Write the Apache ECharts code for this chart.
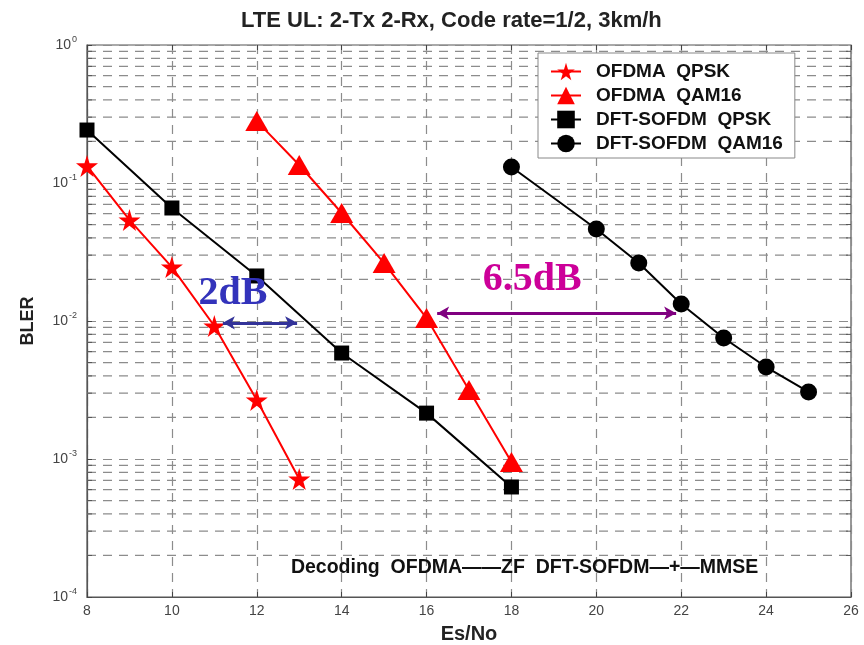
<!DOCTYPE html>
<html><head><meta charset="utf-8">
<script src="https://cdn.jsdelivr.net/npm/echarts@6/dist/echarts.min.js"></script>
<style>html,body{margin:0;padding:0;background:#fff}#c{width:864px;height:645px}</style>
</head><body><div id="c"></div>
<script>
// ---- data ----
const xOfdmaQpsk = [8, 9, 10, 11, 12, 13];
const yOfdmaQpsk = [0.133, 0.054, 0.0246, 0.0092, 0.00268, 0.000716];
const xOfdmaQam = [12, 13, 14, 15, 16, 17, 18];
const yOfdmaQam = [0.281, 0.135, 0.0606, 0.0263, 0.0105, 0.00316, 0.00095];
const xDftQpsk = [8, 10, 12, 14, 16, 18];
const yDftQpsk = [0.242, 0.0659, 0.0212, 0.00586, 0.00215, 0.000627];
const xDftQam = [18, 20, 21, 22, 23, 24, 25];
const yDftQam = [0.1306, 0.0464, 0.0263, 0.0133, 0.00753, 0.00464, 0.00306];
const seriesNames = ['OFDMA  QPSK', 'OFDMA  QAM16', 'DFT-SOFDM  QPSK', 'DFT-SOFDM  QAM16'];
const xTicks = [8, 10, 12, 14, 16, 18, 20, 22, 24, 26];
const yDecades = [-4, -3, -2, -1, 0];
const minorMultipliers = [2, 3, 4, 5, 6, 7, 8, 9];
const arrow2dB = { x: [11.2, 12.95], y: 0.0097, label: '2dB', lx: 11.44, ly: 0.0157 };
const arrow65dB = { x: [16.25, 21.88], y: 0.0114, label: '6.5dB', lx: 18.49, ly: 0.0198 };
const noteText = 'Decoding  OFDMA\u2014\u2014ZF  DFT-SOFDM\u2014+\u2014MMSE';
const notePos = [18.31, 0.000162];
const titleText = 'LTE UL: 2-Tx 2-Rx, Code rate=1/2, 3km/h';

// ---- build ----
const zip = (xs, ys) => xs.map((x, i) => [x, ys[i]]);
const minorVals = [];
for (let i = 0; i < yDecades.length - 1; i++)
  for (const m of minorMultipliers) minorVals.push(m * Math.pow(10, yDecades[i]));
const STAR = 'path://M50,0 L61,35 L98,35 L68,57 L79,91 L50,70 L21,91 L32,57 L2,35 L39,35 Z';
const FONT = 'Liberation Sans';
const GRID_COLOR = '#8c8c8c';
const gridDash = { type: [9, 7], color: GRID_COLOR, width: 1.2 };

const chart = echarts.init(document.getElementById('c'), null, { renderer: 'canvas' });
const option = {
  animation: false,
  backgroundColor: '#fff',
  title: {
    text: titleText, left: 236, top: 5,
    textStyle: { fontFamily: FONT, fontWeight: 'bold', fontSize: 22, color: '#222' }
  },
  grid: { left: 87, right: 13, top: 45, bottom: 48, show: true, borderColor: '#555', borderWidth: 1.2,
    backgroundColor: '#fff', outerBoundsMode: 'none', containLabel: false },
  legend: {
    orient: 'vertical', left: 538, top: 53,
    data: seriesNames,
    itemWidth: 30, itemHeight: 22, itemGap: 5,
    padding: [9, 12, 5, 12],
    borderColor: '#888', borderWidth: 1, backgroundColor: '#fff',
    textStyle: { fontFamily: FONT, fontWeight: 'bold', fontSize: 19, color: '#111', padding: [0, 0, 0, 10] }
  },
  xAxis: [{
    type: 'value', min: 8, max: 26, interval: 2,
    name: 'Es/No', nameLocation: 'middle', nameGap: 27,
    nameTextStyle: { fontFamily: FONT, fontWeight: 'bold', fontSize: 20, color: '#222' },
    axisLine: { show: true, lineStyle: { color: '#555', width: 1.2 } },
    axisTick: { show: true, inside: true, length: 5, lineStyle: { color: '#444' } },
    axisLabel: { fontFamily: FONT, fontSize: 14, color: '#444', margin: 7,
      formatter: v => (xTicks.indexOf(v) >= 0 ? String(v) : '') },
    splitLine: { show: true, lineStyle: gridDash }
  }, {
    type: 'value', min: 8, max: 26, interval: 2, position: 'top',
    axisLine: { show: false }, axisLabel: { show: false }, splitLine: { show: false },
    axisTick: { show: true, inside: true, length: 5, lineStyle: { color: '#444' } }
  }],
  yAxis: {
    type: 'log', logBase: 10, min: 1e-4, max: 1,
    name: 'BLER', nameLocation: 'middle', nameGap: 50, nameRotate: 90,
    nameTextStyle: { fontFamily: FONT, fontWeight: 'bold', fontSize: 18, color: '#222' },
    axisLine: { show: true, lineStyle: { color: '#555', width: 1.2 } },
    axisTick: { show: true, inside: true, length: 5, lineStyle: { color: '#444' } },
    axisLabel: {
      margin: 10,
      formatter: v => {
        const e = Math.round(Math.log10(v));
        return '{b|10}{s|' + e + '}';
      },
      rich: {
        b: { fontFamily: FONT, fontSize: 14, color: '#444' },
        s: { fontFamily: FONT, fontSize: 9, color: '#444', padding: [0, 0, 11, 1] }
      }
    },
    splitLine: { show: true, lineStyle: gridDash }
  },
  series: [
    {
      name: 'gridMinor', type: 'custom', coordinateSystem: 'cartesian2d', silent: true, z: 1,
      data: minorVals.map(v => [8, v]),
      encode: { x: 0, y: 1 },
      renderItem: (params, api) => {
        const p = api.coord([api.value(0), api.value(1)]);
        const cs = params.coordSys;
        return {
          type: 'group',
          children: [
            { type: 'line', shape: { x1: cs.x, y1: p[1], x2: cs.x + cs.width, y2: p[1] },
              style: { stroke: GRID_COLOR, lineWidth: 1.2, lineDash: [9, 7] } },
            { type: 'line', shape: { x1: cs.x, y1: p[1], x2: cs.x + 5, y2: p[1] },
              style: { stroke: '#555', lineWidth: 1 } },
            { type: 'line', shape: { x1: cs.x + cs.width - 5, y1: p[1], x2: cs.x + cs.width, y2: p[1] },
              style: { stroke: '#555', lineWidth: 1 } }
          ]
        };
      }
    },
    {
      name: seriesNames[0], type: 'line', data: zip(xOfdmaQpsk, yOfdmaQpsk),
      symbol: STAR, symbolSize: 22, color: '#ff0000',
      lineStyle: { width: 2, color: '#ff0000' }, itemStyle: { color: '#ff0000' }, z: 4,
      markLine: {
        silent: true, symbol: ['arrow', 'arrow'], symbolSize: [10, 12], label: { show: false },
        lineStyle: { color: '#333399', width: 3, type: 'solid' },
        data: [[{ coord: [arrow2dB.x[0], arrow2dB.y] }, { coord: [arrow2dB.x[1], arrow2dB.y] }]]
      },
      markPoint: {
        silent: true, symbolSize: 0,
        data: [{ coord: [arrow2dB.lx, arrow2dB.ly], value: arrow2dB.label }],
        label: { show: true, position: 'inside', formatter: arrow2dB.label, fontFamily: 'Liberation Serif', fontWeight: 'bold', fontSize: 40, color: '#3333bb' }
      }
    },
    {
      name: seriesNames[1], type: 'line', data: zip(xOfdmaQam, yOfdmaQam),
      symbol: 'triangle', symbolSize: [23, 20], color: '#ff0000',
      lineStyle: { width: 2, color: '#ff0000' }, itemStyle: { color: '#ff0000' }, z: 4
    },
    {
      name: seriesNames[2], type: 'line', data: zip(xDftQpsk, yDftQpsk),
      symbol: 'rect', symbolSize: 15, color: '#000',
      lineStyle: { width: 2, color: '#000' }, itemStyle: { color: '#000' }, z: 3,
      markPoint: {
        silent: true, symbolSize: 0,
        data: [{ coord: notePos, value: 'note' }],
        label: { show: true, position: 'inside', formatter: noteText, fontFamily: FONT, fontWeight: 'bold', fontSize: 19.5, color: '#111' }
      }
    },
    {
      name: seriesNames[3], type: 'line', data: zip(xDftQam, yDftQam),
      symbol: 'circle', symbolSize: 17, color: '#000',
      lineStyle: { width: 2, color: '#000' }, itemStyle: { color: '#000' }, z: 3,
      markLine: {
        silent: true, symbol: ['arrow', 'arrow'], symbolSize: [10, 12], label: { show: false },
        lineStyle: { color: '#800080', width: 3, type: 'solid' },
        data: [[{ coord: [arrow65dB.x[0], arrow65dB.y] }, { coord: [arrow65dB.x[1], arrow65dB.y] }]]
      },
      markPoint: {
        silent: true, symbolSize: 0,
        data: [{ coord: [arrow65dB.lx, arrow65dB.ly], value: arrow65dB.label }],
        label: { show: true, position: 'inside', formatter: arrow65dB.label, fontFamily: 'Liberation Serif', fontWeight: 'bold', fontSize: 40, color: '#cc0099' }
      }
    }
  ]
};
chart.setOption(option);
</script></body></html>
